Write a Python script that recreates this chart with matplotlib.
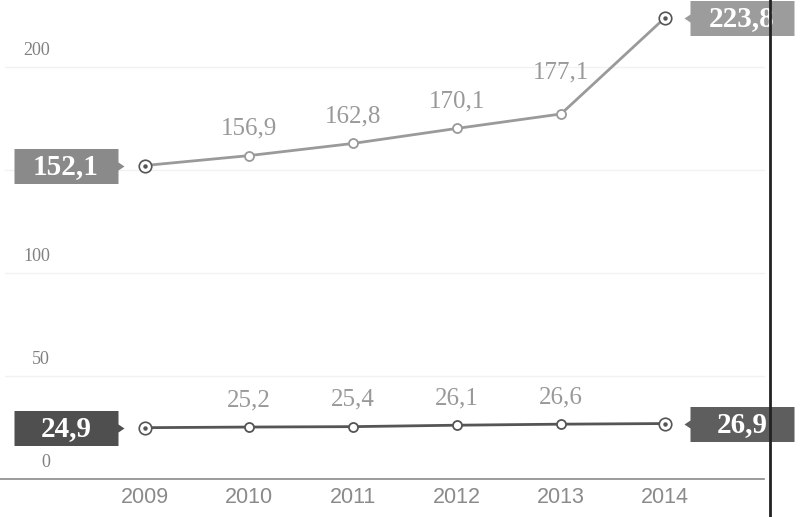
import matplotlib.pyplot as plt
import matplotlib.transforms as mtransforms

years = [2009, 2010, 2011, 2012, 2013, 2014]
upper = [152.1, 156.9, 162.8, 170.1, 177.1, 223.8]
lower = [24.9, 25.2, 25.4, 26.1, 26.6, 26.9]
y_ticks = [0, 50, 100, 200]
grid_vals = [50, 100, 150, 200]

def fmt(v):
    return ("%.1f" % v).replace(".", ",")

fig = plt.figure(figsize=(8, 5.17), dpi=100)
ax = fig.add_axes([0, 0, 1, 1])
ax.set_xlim(2007.606, 2015.298)
ax.set_ylim(-18.44, 232.4)
ax.axis("off")

def px(dx, dy):
    return mtransforms.offset_copy(ax.transData, fig=fig, x=dx, y=dy, units="dots")

# label box shapes (pixels), pointer on the side facing the marker
bw, bh = 52, 17.5
box_right_ptr = [(-bw, -bh), (bw, -bh), (bw, -4), (bw + 6, 0), (bw, 4), (bw, bh), (-bw, bh)]
box_left_ptr = [(-x, y) for x, y in box_right_ptr]
box_ms = 2 * (bw + 6) * 0.72

# faint grid and baseline
for g in grid_vals:
    ax.plot([2007.65, 2014.95], [g, g], color="#f2f2f2", lw=1, zorder=0)
ax.plot([2007.606, 2014.95], [0, 0], color="#8a8a8a", lw=1.2, zorder=1)

# y tick labels sit above their gridlines
for t in y_ticks:
    ax.text(2007.606 + 50 / 104, t, str(t), transform=px(0, 8), ha="right", va="bottom",
            fontsize=13, color="#808080", family="Liberation Serif")

for x in years:
    ax.text(x, 0, str(x), transform=px(0, -8), ha="center", va="top",
            fontsize=15.5, color="#8a8a8a", family="Liberation Sans")

series = [(upper, "#9a9a9a", "#8a8a8a", "#9c9c9c"),
          (lower, "#555555", "#4f4f4f", "#5e5e5e")]

for vals, lc, box_l, box_r in series:
    ax.plot(years, vals, color=lc, lw=2, zorder=2)
    ax.plot(years[1:-1], vals[1:-1], "o", ms=6.5, mfc="white", mec=lc, mew=1.3, zorder=3)
    ends_x = [years[0], years[-1]]
    ends_y = [vals[0], vals[-1]]
    ax.plot(ends_x, ends_y, "o", ms=9, mfc="white", mec="#555555", mew=1.2, zorder=3)
    ax.plot(ends_x, ends_y, "o", ms=2.2, color="#555555", zorder=4)

    # middle value labels
    for i in range(1, len(years) - 1):
        dy = 27
        if vals is upper and i == len(years) - 2:
            dy = 42
        ax.text(years[i], vals[i], fmt(vals[i]), transform=px(0, dy), ha="center",
                va="center", fontsize=18, color="#999999", family="Liberation Serif")

    # boxed end labels with small pointer
    for xv, yv, dx, col, shape in [(years[0], vals[0], -79, box_l, box_right_ptr),
                                   (years[-1], vals[-1], 77, box_r, box_left_ptr)]:
        ax.plot([xv], [yv], marker=shape, ms=box_ms, color=col, mew=0,
                transform=px(dx, 0), zorder=5)
        ax.text(xv, yv, fmt(yv), transform=px(dx, -1), ha="center", va="center",
                fontsize=21, fontweight="bold", color="white", family="Liberation Serif",
                zorder=6)

# dark vertical fold line of the scan
fig.add_artist(plt.Line2D([770 / 800, 770 / 800], [0, 1], color="#222222", lw=2))

plt.savefig("out.png", dpi=100)
